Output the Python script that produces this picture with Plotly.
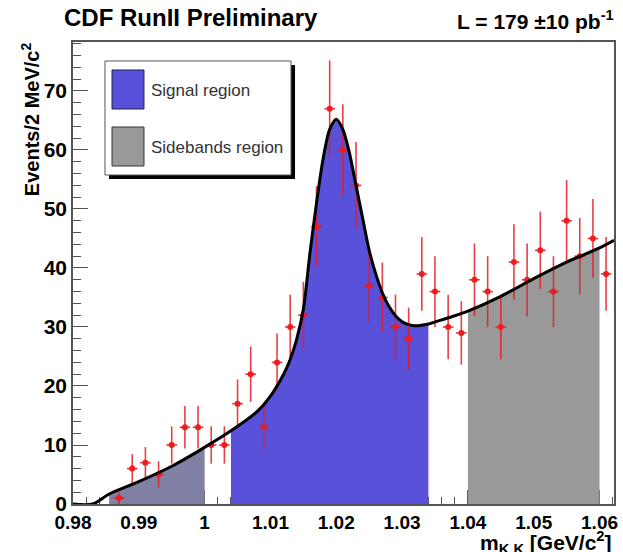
import numpy as np
import plotly.graph_objects as go

# ---- data ----
bin_centers = [0.987, 0.989, 0.991, 0.993, 0.995, 0.997, 0.999, 1.001, 1.003, 1.005,
               1.007, 1.009, 1.011, 1.013, 1.015, 1.017, 1.019, 1.021, 1.023, 1.025,
               1.027, 1.029, 1.031, 1.033, 1.035, 1.037, 1.039, 1.041, 1.043, 1.045,
               1.047, 1.049, 1.051, 1.053, 1.055, 1.057, 1.059, 1.061]
counts = [1, 6, 7, 5, 10, 13, 13, 10, 10, 17,
          22, 13, 24, 30, 32, 47, 67, 60, 54, 37,
          35, 30, 28, 39, 36, 30, 29, 38, 36, 30,
          41, 38, 43, 36, 48, 42, 45, 39]

# fitted curve
fit_x = [0.980, 0.983, 0.9855, 0.990, 0.995, 1.000, 1.004, 1.008, 1.010, 1.012,
         1.013, 1.014, 1.015, 1.016, 1.017, 1.018, 1.019, 1.020, 1.021, 1.022,
         1.023, 1.024, 1.025, 1.026, 1.027, 1.028, 1.029, 1.030, 1.031, 1.032,
         1.034, 1.036, 1.038, 1.040, 1.045, 1.050, 1.055, 1.060, 1.0622]
fit_y = [0.0, 0.0, 1.7, 3.8, 6.4, 9.6, 12.4, 15.7, 18.3, 22.0,
         24.5, 28.0, 33.0, 42.5, 51.0, 58.5, 63.5, 65.2, 63.5, 59.5,
         54.0, 48.5, 43.0, 39.0, 35.8, 33.5, 31.9, 30.9, 30.4, 30.2,
         30.5, 31.2, 31.9, 32.7, 35.2, 38.2, 41.0, 43.4, 44.7]

left_sideband = (0.9855, 1.000)
signal_region = (1.004, 1.034)
right_sideband = (1.040, 1.060)

x_ticks = [0.98, 0.99, 1.00, 1.01, 1.02, 1.03, 1.04, 1.05, 1.06]
x_ticklabels = ["0.98", "0.99", "1", "1.01", "1.02", "1.03", "1.04", "1.05", "1.06"]
y_ticks = [0, 10, 20, 30, 40, 50, 60, 70]

FONT = "Liberation Sans, Arial, Helvetica, sans-serif"
fx = np.array(fit_x)
fy = np.array(fit_y)


def region(lo, hi):
    m = (fx >= lo - 1e-9) & (fx <= hi + 1e-9)
    return fx[m], fy[m]


fig = go.Figure()

for (lo, hi), col in [(left_sideband, "#7f80a4"), (signal_region, "#5951d9"),
                      (right_sideband, "#999999")]:
    rx, ry = region(lo, hi)
    fig.add_trace(go.Scatter(x=rx, y=ry, mode="lines", fill="tozeroy",
                             fillcolor=col, line=dict(width=0, shape="spline", smoothing=0.8),
                             hoverinfo="skip", showlegend=False))

errs = np.sqrt(np.array(counts, dtype=float))
fig.add_trace(go.Scatter(
    x=bin_centers, y=counts, mode="markers",
    marker=dict(color="#ee1c1c", size=6, symbol="circle"),
    error_y=dict(type="data", array=errs, color="rgba(225,30,40,0.85)", thickness=1.6, width=0),
    error_x=dict(type="constant", value=0.0008, color="rgba(225,30,40,0.9)", thickness=1.6, width=0),
    showlegend=False))

fig.add_trace(go.Scatter(x=fx, y=fy, mode="lines",
                         line=dict(color="black", width=3, shape="spline", smoothing=0.8),
                         showlegend=False, hoverinfo="skip"))

# legend box (ROOT style)
shapes = [
    dict(type="rect", xref="paper", yref="paper", x0=0.0665, x1=0.4104, y0=0.7035, y1=0.9502,
         fillcolor="black", line=dict(width=0), layer="above"),
    dict(type="rect", xref="paper", yref="paper", x0=0.0591, x1=0.4030, y0=0.7121, y1=0.9589,
         fillcolor="white", line=dict(color="#555555", width=1), layer="above"),
    dict(type="rect", xref="paper", yref="paper", x0=0.0721, x1=0.1312, y0=0.855, y1=0.9394,
         fillcolor="#5951d9", line=dict(color="#222244", width=1), layer="above"),
    dict(type="rect", xref="paper", yref="paper", x0=0.0721, x1=0.1312, y0=0.7316, y1=0.816,
         fillcolor="#999999", line=dict(color="#333333", width=1), layer="above"),
]

annotations = [
    dict(text="Signal region", xref="paper", yref="paper", x=0.1405, y=0.896,
         xanchor="left", yanchor="middle", showarrow=False,
         font=dict(family=FONT, size=17, color="#333333")),
    dict(text="Sidebands region", xref="paper", yref="paper", x=0.1405, y=0.7727,
         xanchor="left", yanchor="middle", showarrow=False,
         font=dict(family=FONT, size=17, color="#333333")),
    dict(text="CDF RunII Preliminary", xref="paper", yref="paper", x=-0.0203, y=1.052,
         xanchor="left", yanchor="middle", showarrow=False,
         font=dict(family=FONT, size=24, color="black", weight="bold")),
    dict(text="L = 179 \u00b110 pb<sup>-1</sup>", xref="paper", yref="paper", x=1.0037, y=1.047,
         xanchor="right", yanchor="middle", showarrow=False,
         font=dict(family=FONT, size=21, color="black", weight="bold")),
    dict(text="Events/2 MeV/c<sup>2</sup>", xref="paper", yref="paper", x=-0.0795, y=1.004,
         xanchor="center", yanchor="top", textangle=-90, showarrow=False,
         font=dict(family=FONT, size=20, color="black", weight="bold")),
    dict(text="m<sub>K K</sub> [GeV/c<sup>2</sup>]", xref="paper", yref="paper", x=1.0, y=-0.083,
         xanchor="right", yanchor="middle", showarrow=False,
         font=dict(family=FONT, size=21, color="black", weight="bold")),
]

fig.update_layout(
    width=623, height=552,
    margin=dict(l=73, r=9, t=42, b=48, autoexpand=False),
    paper_bgcolor="white", plot_bgcolor="white",
    shapes=shapes, annotations=annotations,
    showlegend=False,
)

fig.update_xaxes(range=[0.98, 1.0622], showgrid=False, zeroline=False, automargin=False,
                 showline=True, linecolor="#555555", linewidth=1.5, mirror=True,
                 ticks="inside", ticklen=14, tickwidth=1, tickcolor="#555555",
                 tickvals=x_ticks, ticktext=x_ticklabels,
                 minor=dict(dtick=0.002, tick0=0.98, ticks="inside", ticklen=7, tickcolor="#555555"),
                 tickfont=dict(family=FONT, size=19, color="black", weight="bold"),
                 layer="below traces")
fig.update_yaxes(range=[0, 78.3], showgrid=False, zeroline=False, automargin=False,
                 showline=True, linecolor="#555555", linewidth=1.5, mirror=True,
                 ticks="inside", ticklen=15, tickwidth=1, tickcolor="#555555",
                 tickvals=y_ticks,
                 minor=dict(dtick=2, tick0=0, ticks="inside", ticklen=8, tickcolor="#555555"),
                 tickfont=dict(family=FONT, size=21, color="black", weight="bold"),
                 layer="below traces")

fig.write_html("out.html")
